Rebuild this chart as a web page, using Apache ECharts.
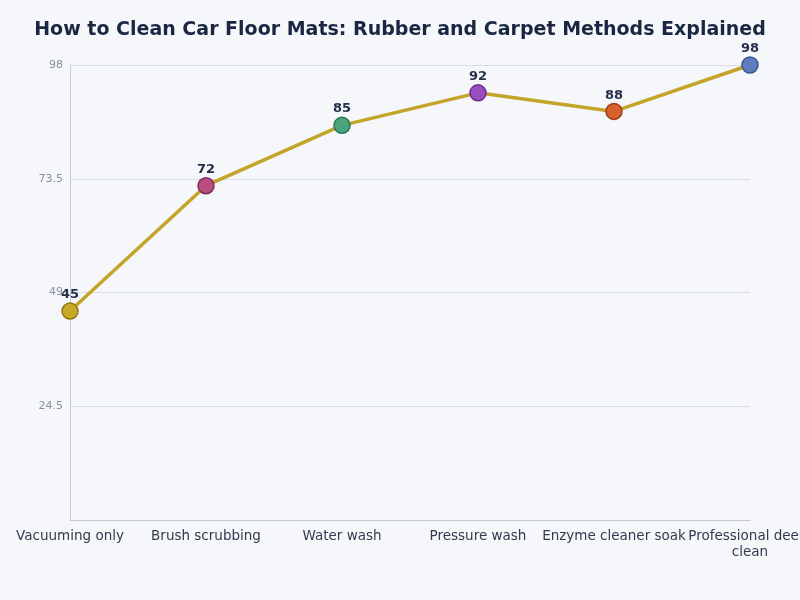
<!DOCTYPE html>
<html>
<head>
<meta charset="utf-8">
<script src="https://cdn.jsdelivr.net/npm/echarts@6/dist/echarts.min.js"></script>
<style>
  html, body { margin: 0; padding: 0; background: #f5f7fb; }
  #chart { width: 800px; height: 600px; }
</style>
</head>
<body>
<div id="chart"></div>
<script>
const methods = ["Vacuuming only", "Brush scrubbing", "Water wash", "Pressure wash", "Enzyme cleaner soak", "Professional deep clean"];
const scores = [45, 72, 85, 92, 88, 98];
const pointColors = ["#c9a92a", "#b84f7f", "#4aa57f", "#9a4fbf", "#d8622c", "#5d7dbf"];
const pointBorders = ["#8f7812", "#7e2d57", "#2a7556", "#6a2c8a", "#9a3e14", "#3a5590"];

const chart = echarts.init(document.getElementById("chart"));

const chartOptions = {
  backgroundColor: "#f5f7fb",
  textStyle: { fontFamily: "DejaVu Sans" },
  title: {
    text: "How to Clean Car Floor Mats: Rubber and Carpet Methods Explained",
    left: "center",
    top: 16,
    textStyle: { fontSize: 19, fontWeight: "bold", color: "#1b2742", fontFamily: "DejaVu Sans" },
  },
  grid: { left: 70, right: 50, top: 65, bottom: 80, outerBoundsMode: "none" },
  xAxis: {
    type: "category",
    data: methods,
    boundaryGap: false,
    axisLine: { lineStyle: { color: "#c4c8d0" } },
    axisTick: { show: false },
    axisLabel: {
      color: "#333a4c",
      fontSize: 13.5,
      margin: 8,
      interval: 0,
      width: 150,
      overflow: "break",
      lineHeight: 16,
    },
  },
  yAxis: {
    type: "value",
    min: 0,
    max: 98,
    interval: 24.5,
    axisLine: { show: true, lineStyle: { color: "#c4c8d0" } },
    axisTick: { show: false },
    axisLabel: { color: "#8a90a0", fontSize: 11, margin: 7, showMinLabel: false },
    splitLine: { lineStyle: { color: "#d8dce4" } },
  },
  series: [
    {
      type: "line",
      data: scores.map((v, i) => ({
        value: v,
        itemStyle: { color: pointColors[i], borderColor: pointBorders[i], borderWidth: 1.5 },
      })),
      symbol: "circle",
      symbolSize: 16,
      lineStyle: { color: "#c4a52a", width: 3.5 },
      label: {
        show: true,
        position: "top",
        distance: 1,
        fontSize: 13,
        fontWeight: "bold",
        color: "#27304a",
      },
    },
  ],
};

chart.setOption(chartOptions);
</script>
</body>
</html>
